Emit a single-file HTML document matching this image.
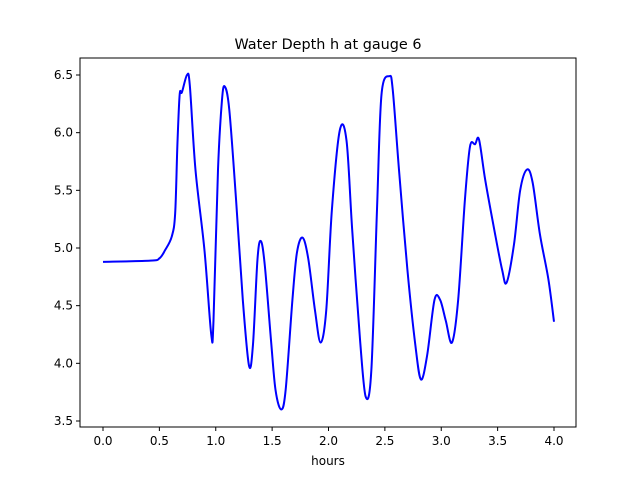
<!DOCTYPE html>
<html><head><meta charset="utf-8"><style>
body{margin:0;background:#fff}
svg text{font-family:"DejaVu Sans","Liberation Sans",sans-serif;fill:#000}
</style></head><body>
<svg id="chart" width="640" height="480" xmlns="http://www.w3.org/2000/svg">
<rect width="640" height="480" fill="#fff"/>
<g id="plot"></g>
</svg>
<script>
const times=[0,0.42,0.5,0.55,0.61,0.64,0.66,0.68,0.70,0.745,0.77,0.82,0.90,0.96,0.98,1.02,1.055,1.08,1.12,1.18,1.24,1.295,1.33,1.37,1.40,1.435,1.49,1.53,1.58,1.62,1.68,1.72,1.77,1.82,1.88,1.93,1.98,2.03,2.10,2.16,2.21,2.28,2.33,2.38,2.43,2.47,2.54,2.57,2.625,2.70,2.77,2.82,2.875,2.94,2.99,3.04,3.095,3.15,3.21,3.255,3.30,3.335,3.39,3.47,3.54,3.58,3.645,3.70,3.76,3.81,3.875,3.95,4.0];
const depths=[4.88,4.89,4.91,4.98,5.10,5.30,5.9,6.33,6.35,6.5,6.41,5.68,4.98,4.25,4.37,5.68,6.28,6.40,6.2,5.42,4.55,3.98,4.16,4.90,5.06,4.85,4.20,3.77,3.60,3.77,4.55,4.96,5.09,4.91,4.46,4.18,4.46,5.33,6.02,5.93,5.16,4.20,3.71,3.94,5.33,6.33,6.49,6.37,5.68,4.81,4.16,3.86,4.07,4.55,4.55,4.37,4.18,4.55,5.42,5.88,5.9,5.94,5.59,5.16,4.81,4.70,5.03,5.50,5.68,5.57,5.12,4.73,4.36];
const xTicks=[0,0.5,1,1.5,2,2.5,3,3.5,4];
const yTicks=[3.5,4,4.5,5,5.5,6,6.5];
const L=80,R=576,T=58,B=427;
const X=v=>103+v*112.75;
const Y=v=>75+(6.5-v)*115.33;
const NS="http://www.w3.org/2000/svg";
const g=document.getElementById('plot');
function el(t,a){const e=document.createElementNS(NS,t);for(const k in a)e.setAttribute(k,a[k]);g.appendChild(e);return e;}
const pts=times.map((t,i)=>[X(t),Y(depths[i])]);
let d=`M${pts[0][0]},${pts[0][1]}`;
for(let i=0;i<pts.length-1;i++){
 const p0=pts[Math.max(0,i-1)],p1=pts[i],p2=pts[i+1],p3=pts[Math.min(pts.length-1,i+2)];
 const c1=[p1[0]+(p2[0]-p0[0])/6,p1[1]+(p2[1]-p0[1])/6],c2=[p2[0]-(p3[0]-p1[0])/6,p2[1]-(p3[1]-p1[1])/6];
 d+=` C${c1[0]},${c1[1]} ${c2[0]},${c2[1]} ${p2[0]},${p2[1]}`;
}
const line=el('path',{d:d,fill:'none',stroke:'#0000ff','stroke-width':2});


const frame=el('rect',{x:L,y:T,width:R-L,height:B-T,fill:'none',stroke:'#000','stroke-width':1});


xTicks.forEach(v=>{
 const x=X(v);
 el('line',{x1:x,x2:x,y1:B,y2:B+4,stroke:'#000'});
 const t=el('text',{x:x,y:B+18,'font-size':12,'text-anchor':'middle'});t.textContent=v.toFixed(1);
 
 
});
yTicks.forEach(v=>{
 const y=Y(v);
 el('line',{x1:L-4,x2:L,y1:y,y2:y,stroke:'#000'});
 const t=el('text',{x:L-7,y:y+4,'font-size':12,'text-anchor':'end'});t.textContent=v.toFixed(1);
 
 
});
const xt=el('text',{x:328,y:465,'font-size':12,'text-anchor':'middle'});xt.textContent='hours';


const tt=el('text',{x:328,y:49,'font-size':14.4,'text-anchor':'middle'});tt.textContent='Water Depth h at gauge 6';


</script>
</body></html>
